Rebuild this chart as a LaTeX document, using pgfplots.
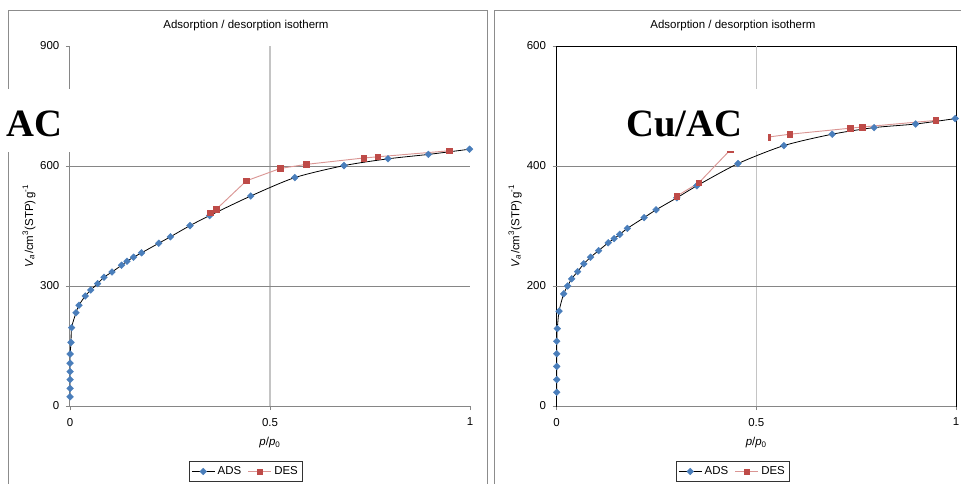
\documentclass[border=0pt]{standalone}
\usepackage{fontspec}
\setmainfont{Liberation Sans}
\newfontfamily\labelfont{Liberation Serif}
\usepackage{pgfplots}
\usepackage{pgfplotstable}
\pgfplotsset{compat=1.18}

\definecolor{adsblue}{HTML}{4A7EBB}
\definecolor{desred}{HTML}{BE4B48}
\definecolor{desline}{HTML}{DA9694}
\definecolor{gridgray}{HTML}{868686}
\definecolor{midline}{HTML}{C4C4C4}
\definecolor{framegray}{HTML}{8C8C8C}

% Activated carbon
\pgfplotstableread{
x y
0.0002 23
0.0002 44
0.0002 66
0.0002 86
0.0002 107
0.0004 130
0.0025 159
0.004 196
0.015 233
0.0225 252
0.038 275
0.052 290
0.069 306
0.085 322
0.105 335
0.129 352
0.1425 362
0.159 372
0.179 383
0.222 407
0.251 423
0.300 451
0.349 476
0.452 525
0.562 571
0.685 601
0.795 618
0.896 629
0.999 642
}\adsAC
\pgfplotstableread{
x y
0.351 483
0.366 492
0.441 563
0.526 594
0.590 604
0.734 620
0.769 623
0.9475 638
}\desAC

% Cu supported on activated carbon
\pgfplotstableread{
x y
0.0002 23
0.0002 44
0.0002 66
0.0002 87
0.0002 108
0.0016 129
0.006 158
0.0175 187
0.0275 200
0.0375 212
0.0525 224
0.068 237
0.085 248
0.105 259
0.129 272
0.144 279
0.158 286
0.177 296
0.219 314
0.249 327
0.301 347
0.351 367
0.454 404
0.569 434
0.690 453
0.795 464
0.899 470
0.998 479
}\adsCu
\pgfplotstableread{
x y
0.301 350
0.356 372
0.435 427
0.527 448
0.584 453
0.735 463
0.765 465
0.949 476
}\desCu

\pgfplotsset{
  iso/.style={
    scale only axis, height=270pt,
    xmin=0, xmax=1, ymin=0,
    font=\fontsize{8.6}{10.3}\selectfont,
    /pgf/number format/assume math mode=true,
    tick align=outside, tick pos=left,
    major tick length=3pt,
    tick style={gridgray, line width=0.6pt},
    xticklabel style={yshift=-2.5pt},
    yticklabel style={xshift=-1.5pt},
    xtick={0,1}, extra x ticks={0.5},
    extra x tick style={grid=major, major grid style={midline, line width=1.1pt}},
    extra y tick style={grid=major, major grid style={gridgray, line width=0.75pt}},
    xlabel={\textit{p}/\textit{p}\textsubscript{0}},
    ylabel={\textit{V}\textsubscript{\textit{a}}/cm\textsuperscript{3}(STP)\,g\textsuperscript{-1}},
    xlabel style={at={(axis description cs:0.5,-0.102)}, anchor=center},
    title={Adsorption / desorption isotherm},
    every axis title shift=0pt,
    legend columns=2,
    legend style={anchor=center, draw=black!80, line width=0.75pt,
      inner sep=1.5pt,
      /tikz/every even column/.append style={column sep=3pt}},
  },
  ads/.style={black, line width=0.6pt, smooth, tension=0.45,
    mark=square*, mark size=1.8pt,
    mark options={adsblue, fill=adsblue, rotate=45, line width=0.3pt}},
  des/.style={desline, line width=0.7pt,
    mark=square*, mark size=2.1pt,
    mark options={desred, fill=desred, line width=0.3pt}},
}

\begin{document}
\begin{tikzpicture}[x=0.75pt, y=0.75pt]
\useasboundingbox (0,0) rectangle (961,483);
\clip (0,0) rectangle (961,483);

% panel frames
\draw[framegray, line width=0.75pt] (8,-10) -- (8,472) -- (487,472) -- (487,-10);
\draw[framegray, line width=0.75pt] (494,-10) -- (494,472) -- (975,472);

% left panel
\begin{axis}[iso, at={(52.5pt,57.75pt)}, anchor=origin, width=300pt,
    ymax=900, ytick={0,900}, extra y ticks={300,600},
    axis lines*=left, axis line style={gridgray, line width=0.75pt},
    ylabel style={at={(axis description cs:-0.1025,0.5)}, anchor=center},
    title style={at={(axis description cs:0.44,1.0556)}, anchor=center},
    legend style={at={(axis description cs:0.44,-0.182)}}]
\addplot[ads] table[x=x, y=y] {\adsAC};
\addlegendentry{ADS}
\addplot[des] table[x=x, y=y] {\desAC};
\addlegendentry{DES}
\end{axis}

% right panel
\begin{axis}[iso, at={(417.5pt,57.75pt)}, anchor=origin, width=299.5pt,
    ymax=600, ytick={0,600}, extra y ticks={200,400},
    axis line style={black, line width=0.75pt},
    ylabel style={at={(axis description cs:-0.104,0.5)}, anchor=center},
    title style={at={(axis description cs:0.4415,1.0556)}, anchor=center},
    legend style={at={(axis description cs:0.4415,-0.182)}}]
\addplot[ads] table[x=x, y=y] {\adsCu};
\addlegendentry{ADS}
\addplot[des] table[x=x, y=y] {\desCu};
\addlegendentry{DES}
\draw[gridgray, line width=0.75pt] (axis cs:0,0) -- (axis cs:1,0);
\end{axis}

% sample labels
\fill[white] (0,331) rectangle (75,394);
\node[anchor=base west, inner sep=0pt, font=\labelfont\bfseries\fontsize{29}{30}\selectfont] at (6,346) {AC};
\fill[white] (600,332.2) rectangle (768,394);
\node[anchor=base west, inner sep=0pt, font=\labelfont\bfseries\fontsize{29}{30}\selectfont] at (626,346) {Cu/AC};
\end{tikzpicture}
\end{document}
